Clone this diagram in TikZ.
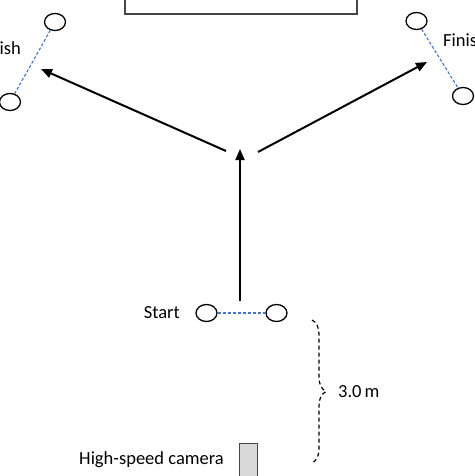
\documentclass[tikz,border=0pt]{standalone}
\usepackage{fontspec}
\setmainfont{Carlito}
\usetikzlibrary{shapes.geometric,arrows.meta,decorations.pathreplacing}
\definecolor{dashblue}{RGB}{68,114,196}
\definecolor{framegray}{RGB}{70,70,70}
\definecolor{camfill}{RGB}{218,218,218}
\begin{document}
\begin{tikzpicture}[x=1pt,y=-1pt,
  cone/.style={ellipse,draw=black,line width=1.3pt,minimum width=21pt,minimum height=17pt,inner sep=0pt},
  pairline/.style={dashblue,line width=1.1pt,dash pattern=on 3pt off 2pt},
  runarrow/.style={line width=2pt,-{Triangle[length=11pt,width=9pt]}},
  lbl/.style={font=\fontsize{18.5}{22}\selectfont,inner sep=0pt}]
\useasboundingbox (0,0) rectangle (474,476);
\clip (0,0) rectangle (474,476);
% top rectangle
\node[draw=framegray,line width=1.8pt,minimum width=232pt,minimum height=30pt,inner sep=0pt,anchor=south west] (board) at (124,15) {};
% finish left
\node[cone] (fl1) at (55,22) {};
\node[cone] (fl2) at (10,102) {};
\draw[pairline] (fl1) -- (fl2);
\node[lbl,anchor=east] (finL) at (21,48) {Finish};
% finish right
\node[cone] (fr1) at (416.5,21) {};
\node[cone] (fr2) at (463,96) {};
\draw[pairline] (fr1) -- (fr2);
\node[lbl,anchor=west] (finR) at (443,40) {Finish};
% start
\node[cone] (s1) at (206.5,313) {};
\node[cone] (s2) at (276.5,313) {};
\draw[pairline] (s1) -- (s2);
\node[lbl,anchor=east] (start) at (180,313) {Start};
% arrows
\coordinate (base) at (240,301);
\coordinate (midtip) at (240,149);
\coordinate (lstart) at (226,151);
\coordinate (ltip) at (41,69);
\coordinate (rstart) at (258,152);
\coordinate (rtip) at (427,62);
\draw[runarrow] (base) -- (midtip);
\draw[runarrow] (lstart) -- (ltip);
\draw[runarrow] (rstart) -- (rtip);
% camera
\node[draw=framegray,fill=camfill,line width=1.3pt,minimum width=18pt,minimum height=40pt,inner sep=0pt,anchor=north west] (cam) at (239,443) {};
\node[lbl,anchor=east] (camlbl) at (224,460) {High-speed camera};
% brace
\coordinate (btop) at (312,320);
\coordinate (bbot) at (312,463);
\draw[line width=1.2pt,dash pattern=on 4pt off 3pt,decorate,decoration={brace,amplitude=14pt}] (btop) -- (bbot);
\node[lbl,anchor=west] (dist) at (338,392) {3.0\,m};
\end{tikzpicture}
\end{document}
